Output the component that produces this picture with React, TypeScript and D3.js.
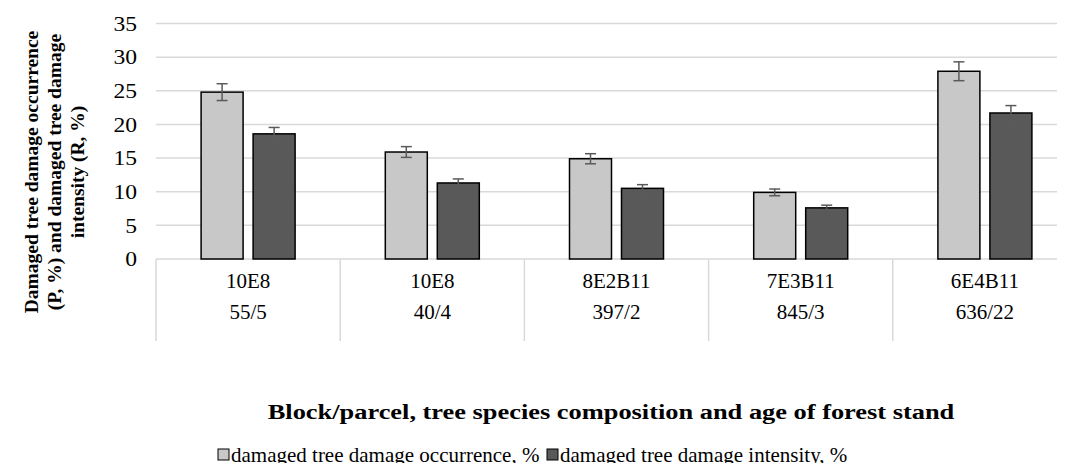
import * as d3 from "d3";
import React from "react";

const stands = ["10E8", "10E8", "8E2B11", "7E3B11", "6E4B11"];
const parcels = ["55/5", "40/4", "397/2", "845/3", "636/22"];
const occurrence = [24.8, 15.9, 14.9, 9.9, 27.9];
const occurrenceErr = [1.25, 0.8, 0.75, 0.5, 1.4];
const intensity = [18.6, 11.3, 10.5, 7.6, 21.7];
const intensityErr = [0.95, 0.6, 0.55, 0.4, 1.1];
const yTicks = [0, 5, 10, 15, 20, 25, 30, 35];

const W = 1065;
const H = 471;
const left = 156;
const right = 1077;
const top = 23.5;
const bottom = 259;

const series = [
  { name: "damaged tree damage occurrence, %", values: occurrence, err: occurrenceErr, fill: "#c8c8c8" },
  { name: "damaged tree damage intensity, %", values: intensity, err: intensityErr, fill: "#595959" },
];

export default function App() {
  const x = d3.scaleBand().domain(d3.range(stands.length).map(String)).range([left, right]);
  const y = d3.scaleLinear().domain([0, 35]).range([bottom, top]);
  const barW = 42;
  const gap = 10;
  const font = "'Liberation Serif', 'Times New Roman', serif";

  return (
    <svg width={W} height={H} style={{ display: "block", margin: -8, fontFamily: font }}>
      <rect width={W} height={H} fill="#fff" />
      {yTicks.map((t) => (
        <g key={t}>
          {t > 0 && <line x1={left} x2={right} y1={y(t)} y2={y(t)} stroke="#d9d9d9" strokeWidth={1.5} />}
          <text transform={`translate(137,${y(t)}) scale(1.15,1)`} dy="0.35em" textAnchor="end" fontSize={20.5}>
            {t}
          </text>
        </g>
      ))}
      <line x1={left} x2={right} y1={bottom} y2={bottom} stroke="#d9d9d9" strokeWidth={1.5} />
      {d3.range(stands.length + 1).map((i) => {
        const xx = left + i * x.bandwidth();
        return <line key={i} x1={xx} x2={xx} y1={bottom} y2={341} stroke="#d9d9d9" strokeWidth={1.5} />;
      })}
      {stands.map((s, i) => {
        const cx = x(String(i))! + x.bandwidth() / 2;
        return (
          <g key={i}>
            <text x={cx} y={281} dy="0.35em" textAnchor="middle" fontSize={21}>
              {s}
            </text>
            <text x={cx} y={312} dy="0.35em" textAnchor="middle" fontSize={21}>
              {parcels[i]}
            </text>
          </g>
        );
      })}
      {series.map((s, si) =>
        s.values.map((v, i) => {
          const cx = x(String(i))! + x.bandwidth() / 2;
          const bx = si === 0 ? cx - gap / 2 - barW : cx + gap / 2;
          const mx = bx + barW / 2;
          return (
            <g key={`${si}-${i}`}>
              <rect x={bx} y={y(v)} width={barW} height={bottom - y(v)} fill={s.fill} stroke="#000" strokeWidth={1.5} />
              <g stroke="#5a5a5a" strokeWidth={1.5}>
                <line x1={mx} x2={mx} y1={y(v + s.err[i])} y2={y(v - s.err[i])} />
                <line x1={mx - 5.5} x2={mx + 5.5} y1={y(v + s.err[i])} y2={y(v + s.err[i])} />
                <line x1={mx - 5.5} x2={mx + 5.5} y1={y(v - s.err[i])} y2={y(v - s.err[i])} />
              </g>
            </g>
          );
        })
      )}
      <text
        transform="translate(0,172) rotate(-90)"
        textAnchor="middle"
        fontSize={19.5}
        fontWeight="bold"
      >
        <tspan x={0} y={38}>Damaged tree damage occurrence</tspan>
        <tspan x={0} y={61}>(P, %) and damaged tree damage</tspan>
        <tspan x={0} y={84}>intensity (R, %)</tspan>
      </text>
      <text
        transform="translate(611,411) scale(1.2,1)"
        dy="0.35em"
        textAnchor="middle"
        fontSize={22}
        fontWeight="bold"
      >
        Block/parcel, tree species composition and age of forest stand
      </text>
      <g transform="translate(218,455)">
        <rect x={0} y={-6} width={11} height={11} fill={series[0].fill} stroke="#000" strokeWidth={1} />
        <text x={13} y={0} dy="0.35em" fontSize={21}>
          {series[0].name}
        </text>
        <rect x={329} y={-6} width={11} height={11} fill={series[1].fill} stroke="#000" strokeWidth={1} />
        <text x={342} y={0} dy="0.35em" fontSize={21}>
          {series[1].name}
        </text>
      </g>
    </svg>
  );
}
